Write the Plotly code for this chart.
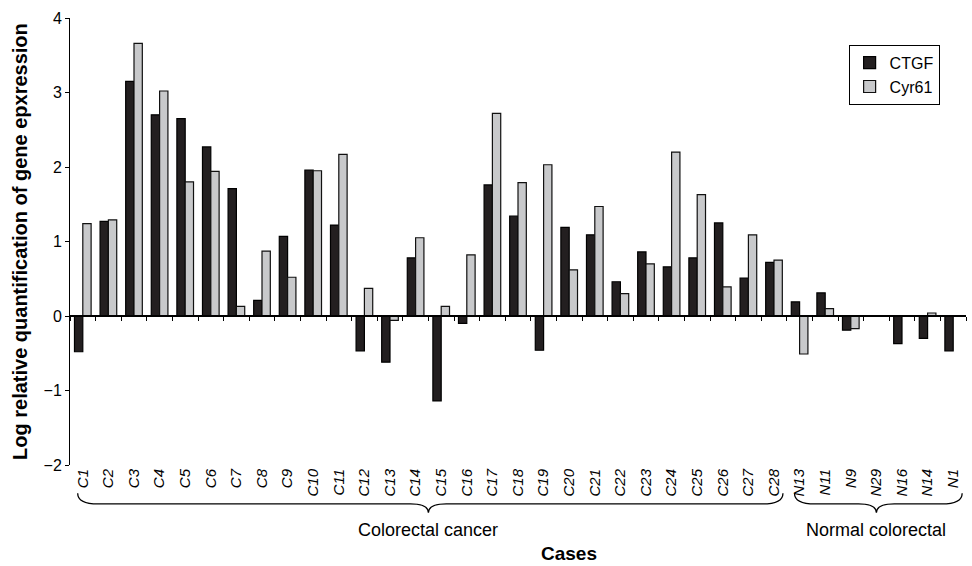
import plotly.graph_objects as go

cases = ["C1","C2","C3","C4","C5","C6","C7","C8","C9","C10","C11","C12","C13","C14",
         "C15","C16","C17","C18","C19","C20","C21","C22","C23","C24","C25","C26","C27","C28",
         "N13","N11","N9","N29","N16","N14","N1"]
ctgf = [-0.48, 1.27, 3.15, 2.70, 2.65, 2.27, 1.71, 0.21, 1.07, 1.96, 1.22, -0.47, -0.62, 0.78,
        -1.14, -0.10, 1.76, 1.34, -0.46, 1.19, 1.09, 0.46, 0.86, 0.66, 0.78, 1.25, 0.51, 0.72,
        0.19, 0.31, -0.19, 0.0, -0.37, -0.30, -0.47]
cyr61 = [1.24, 1.29, 3.66, 3.02, 1.80, 1.94, 0.13, 0.87, 0.52, 1.95, 2.17, 0.37, -0.06, 1.05,
         0.13, 0.82, 2.72, 1.79, 2.03, 0.62, 1.47, 0.30, 0.70, 2.20, 1.63, 0.39, 1.09, 0.75,
         -0.51, 0.10, -0.17, 0.0, 0.0, 0.04, 0.0]
y_ticks = [-2, -1, 0, 1, 2, 3, 4]
groups = [("Colorectal cancer", 0, 27), ("Normal colorectal", 28, 34)]

FONT = "Liberation Sans, Arial, sans-serif"
fig = go.Figure()
fig.add_trace(go.Bar(x=cases, y=ctgf, name="CTGF",
                     marker=dict(color="#231f20", line=dict(color="#000000", width=1.2))))
fig.add_trace(go.Bar(x=cases, y=cyr61, name="Cyr61",
                     marker=dict(color="#c8c9cb", line=dict(color="#111111", width=1.2))))
# invisible helper trace carrying the zero-level axis with boundary ticks
fig.add_trace(go.Scatter(x=cases, y=[0]*len(cases), xaxis="x2", yaxis="y", mode="markers",
                         marker=dict(opacity=0), showlegend=False, hoverinfo="skip"))

ymin, ymax = y_ticks[0], y_ticks[-1]
zero_frac = (0 - ymin) / (ymax - ymin)

fig.update_layout(
    width=972, height=566,
    margin=dict(l=70, r=6, t=18, b=101),
    paper_bgcolor="white", plot_bgcolor="white",
    barmode="group", bargap=0.35, bargroupgap=0,
    font=dict(family=FONT, color="black"),
    showlegend=True,
    legend=dict(x=0.869, y=0.94, xanchor="left", yanchor="top",
                bgcolor="white", bordercolor="black", borderwidth=1,
                font=dict(size=16, family=FONT), tracegroupgap=0,
                itemwidth=30),
    xaxis=dict(type="category", categoryorder="array", categoryarray=cases,
               range=[-0.5, len(cases) - 0.5], showline=False, ticks="",
               tickangle=-90, showgrid=False, zeroline=False,
               tickfont=dict(size=15, family=FONT, style="italic")),
    xaxis2=dict(type="category", categoryorder="array", categoryarray=cases,
                overlaying="x", anchor="free", position=zero_frac,
                range=[-0.5, len(cases) - 0.5], showline=True, linecolor="black",
                linewidth=1.5, ticks="outside", ticklen=4, tickwidth=1, tickcolor="black",
                tickson="boundaries", showticklabels=False, showgrid=False, zeroline=False),
    yaxis=dict(range=[ymin, ymax], tickvals=y_ticks, showline=True, linecolor="black",
               linewidth=1, ticks="outside", ticklen=4, tickcolor="black", showgrid=False,
               zeroline=False, tickfont=dict(size=16, family=FONT)),
)

# braces under category groups
yE, yL, yT = -0.063, -0.087, -0.107
for label, i0, i1 in groups:
    x0, x1 = i0 - 0.2, i1 + 0.35
    xm = (i0 + i1) / 2
    c = 0.8
    cm = 0.7
    path = (f"M {x0},{yE} Q {x0},{yL} {x0 + c},{yL} L {xm - cm},{yL} "
            f"Q {xm},{yL} {xm},{yT} Q {xm},{yL} {xm + cm},{yL} "
            f"L {x1 - c},{yL} Q {x1},{yL} {x1},{yE}")
    fig.add_shape(type="path", path=path, xref="x", yref="paper",
                  line=dict(color="black", width=1.3))
    fig.add_annotation(x=xm, y=-0.145, xref="x", yref="paper", text=label,
                       showarrow=False, font=dict(size=18, family=FONT),
                       xanchor="center", yanchor="middle")

fig.add_annotation(x=0.557, y=-0.199, xref="paper", yref="paper", text="<b>Cases</b>",
                   showarrow=False, font=dict(size=19, family=FONT),
                   xanchor="center", yanchor="middle")
fig.add_annotation(x=-0.0564, y=0.5, xref="paper", yref="paper",
                   text="<b>Log relative quantification of gene epxression</b>",
                   textangle=-90, showarrow=False, font=dict(size=20, family=FONT),
                   xanchor="center", yanchor="middle")

fig.write_html("out.html")
